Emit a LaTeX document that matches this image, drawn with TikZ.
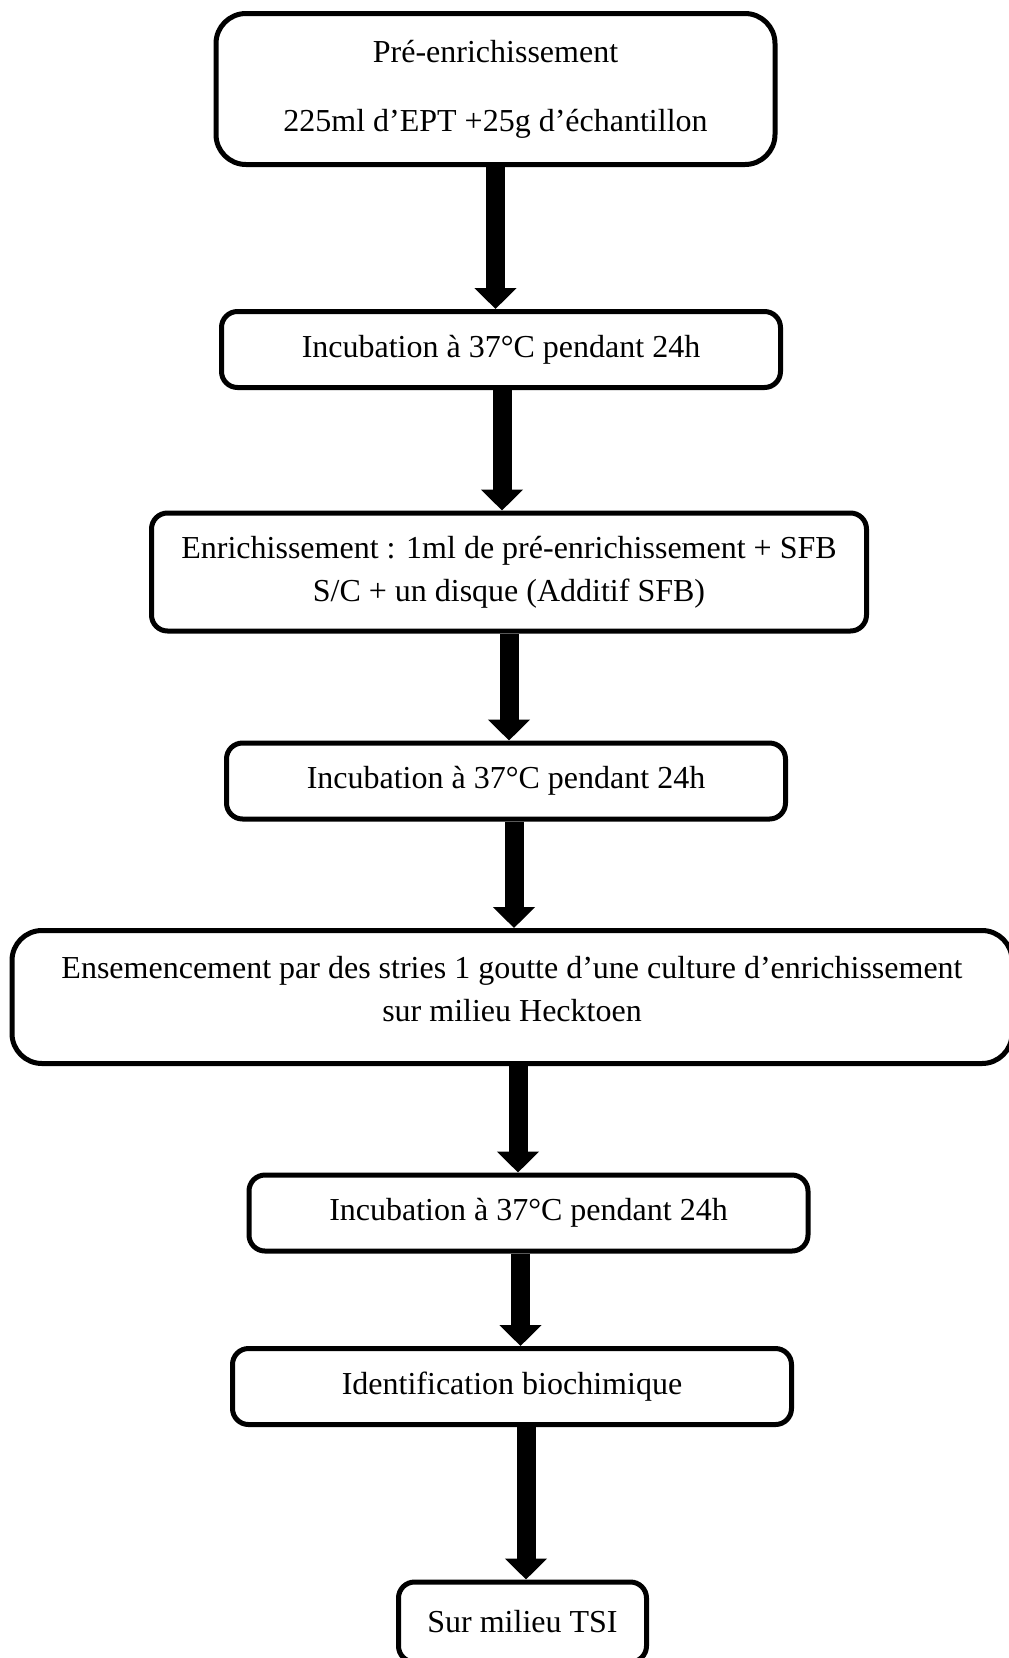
\documentclass[tikz,border=0pt]{standalone}
\usepackage{fontspec}
\setmainfont{Liberation Serif}
\usepackage{tikz}
\usetikzlibrary{arrows.meta,positioning,calc}
\tikzset{
  steptext/.style={align=center, inner sep=0pt, font=\fontsize{32}{43}\selectfont},
  stepbox/.style={steptext, draw=black, line width=5pt, rounded corners=16pt, fill=white,
    minimum width=559pt, minimum height=76pt},
  bigflow/.style={draw=black, line width=19pt,
    -{Triangle[length=21pt,width=41pt]}}
}

\begin{document}
\begin{tikzpicture}[x=1pt,y=-1pt]
    \useasboundingbox (0,0) rectangle (1009,1658);
    % etapes
    \node[stepbox, rounded corners=30pt, minimum height=151pt] (pre) at (495.5,89)
      {Pré-enrichissement\\[26pt]225ml d’EPT +25g d’échantillon};
    \node[stepbox] (inc1) at (501,349.5) {Incubation à 37°C pendant 24h};
    \node[stepbox, minimum width=715pt, minimum height=118pt] (enr) at (509,572)
      {Enrichissement : 1ml de pré-enrichissement + SFB\\S/C + un disque (Additif SFB)};
    \node[stepbox] (inc2) at (506,781) {Incubation à 37°C pendant 24h};
    \node[stepbox, rounded corners=30pt, minimum width=1000pt, minimum height=133pt] (ens) at (512,997) {};
    \node[steptext] (enstext) at (512,989.5)
      {Ensemencement par des stries 1 goutte d’une culture d’enrichissement\\sur milieu Hecktoen};
    \node[stepbox] (inc3) at (528.5,1213) {Incubation à 37°C pendant 24h};
    \node[stepbox] (ident) at (512,1386.5) {Identification biochimique};
    \node[stepbox, minimum width=248pt, minimum height=80pt] (tsi) at (522.5,1622)
      {Sur milieu TSI};

    \draw[bigflow] (pre.south) -- (pre.south |- inc1.north);
    \draw[bigflow] ([xshift=1pt]inc1.south) -- ([xshift=1pt]inc1.south |- enr.north);
    \draw[bigflow] (enr.south) -- (enr.south |- inc2.north);
    \draw[bigflow] ([xshift=8pt]inc2.south) -- ([xshift=8pt]inc2.south |- ens.north);
    \draw[bigflow] ([xshift=6pt]ens.south) -- ([xshift=6pt]ens.south |- inc3.north);
    \draw[bigflow] ([xshift=-8pt]inc3.south) -- ([xshift=-8pt]inc3.south |- ident.north);
    \draw[bigflow] ([xshift=14pt]ident.south) -- ([xshift=14pt]ident.south |- tsi.north);
\end{tikzpicture}
\end{document}
